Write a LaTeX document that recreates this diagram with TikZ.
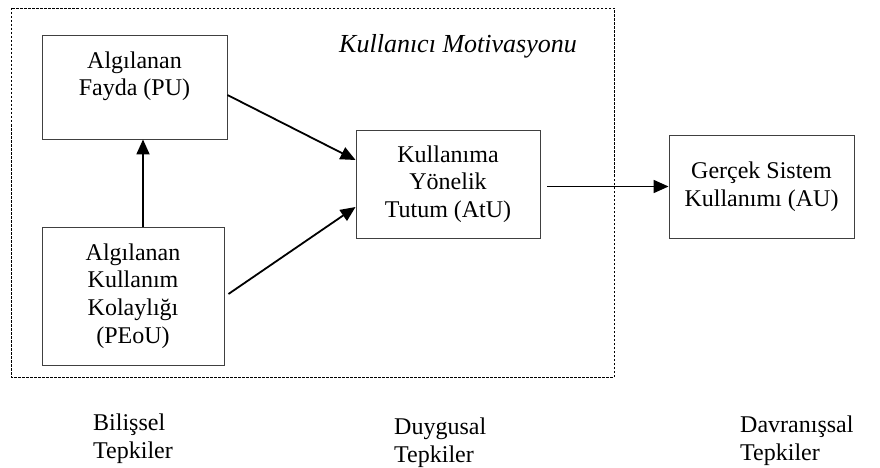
\documentclass[tikz,border=0pt]{standalone}
\usepackage{fontspec}
\setmainfont{Liberation Serif}
\usetikzlibrary{arrows.meta}

\tikzset{box/.style={draw=black!75,line width=0.9pt,align=center,inner sep=0pt},
  arr/.style={-{Triangle[length=15pt,width=13pt]},line width=1.8pt},
  lbl/.style={align=left,anchor=west,inner sep=0pt}}

\begin{document}
\begin{tikzpicture}[x=1pt,y=-1pt,font=\fontsize{24}{27.6}\selectfont]
  \useasboundingbox (0,0) rectangle (880,468);
  \draw[line width=0.8pt,dash pattern=on 2.5pt off 1.5pt] (11,8) rectangle (614,377);
  \node[font=\fontsize{26}{30}\itshape] (motiv) at (458,46) {Kullanıcı Motivasyonu};

  \node[box,minimum width=185,minimum height=104,text depth=27pt] (pu) at (134.5,87) {Algılanan\\Fayda (PU)};
  \node[box,minimum width=182,minimum height=138] (peou) at (133,296) {Algılanan\\Kullanım\\Kolaylığı\\(PEoU)};
  \node[box,minimum width=184,minimum height=108] (atu) at (448,184) {Kullanıma\\Yönelik\\Tutum (AtU)};
  \node[box,minimum width=185,minimum height=103] (au) at (761.5,186.5) {Gerçek Sistem\\Kullanımı (AU)};

  \draw[arr] ([yshift=-8pt]pu.east) -- ([yshift=24pt]atu.west);
  \draw[arr] ([xshift=4pt,yshift=2pt]peou.east) -- ([yshift=-23pt]atu.west);
  \draw[arr] ([xshift=10pt]peou.north) -- ([xshift=10pt]peou.north |- pu.south);
  \draw[arr,shorten <=7pt] (atu.east |- au.west) -- (au.west);

  \node[lbl] (bilis) at (93,439) {Bilişsel\\Tepkiler};
  \node[lbl] (duygu) at (394,443) {Duygusal\\Tepkiler};
  \node[lbl] (davra) at (740,441) {Davranışsal\\Tepkiler};
\end{tikzpicture}
\end{document}
